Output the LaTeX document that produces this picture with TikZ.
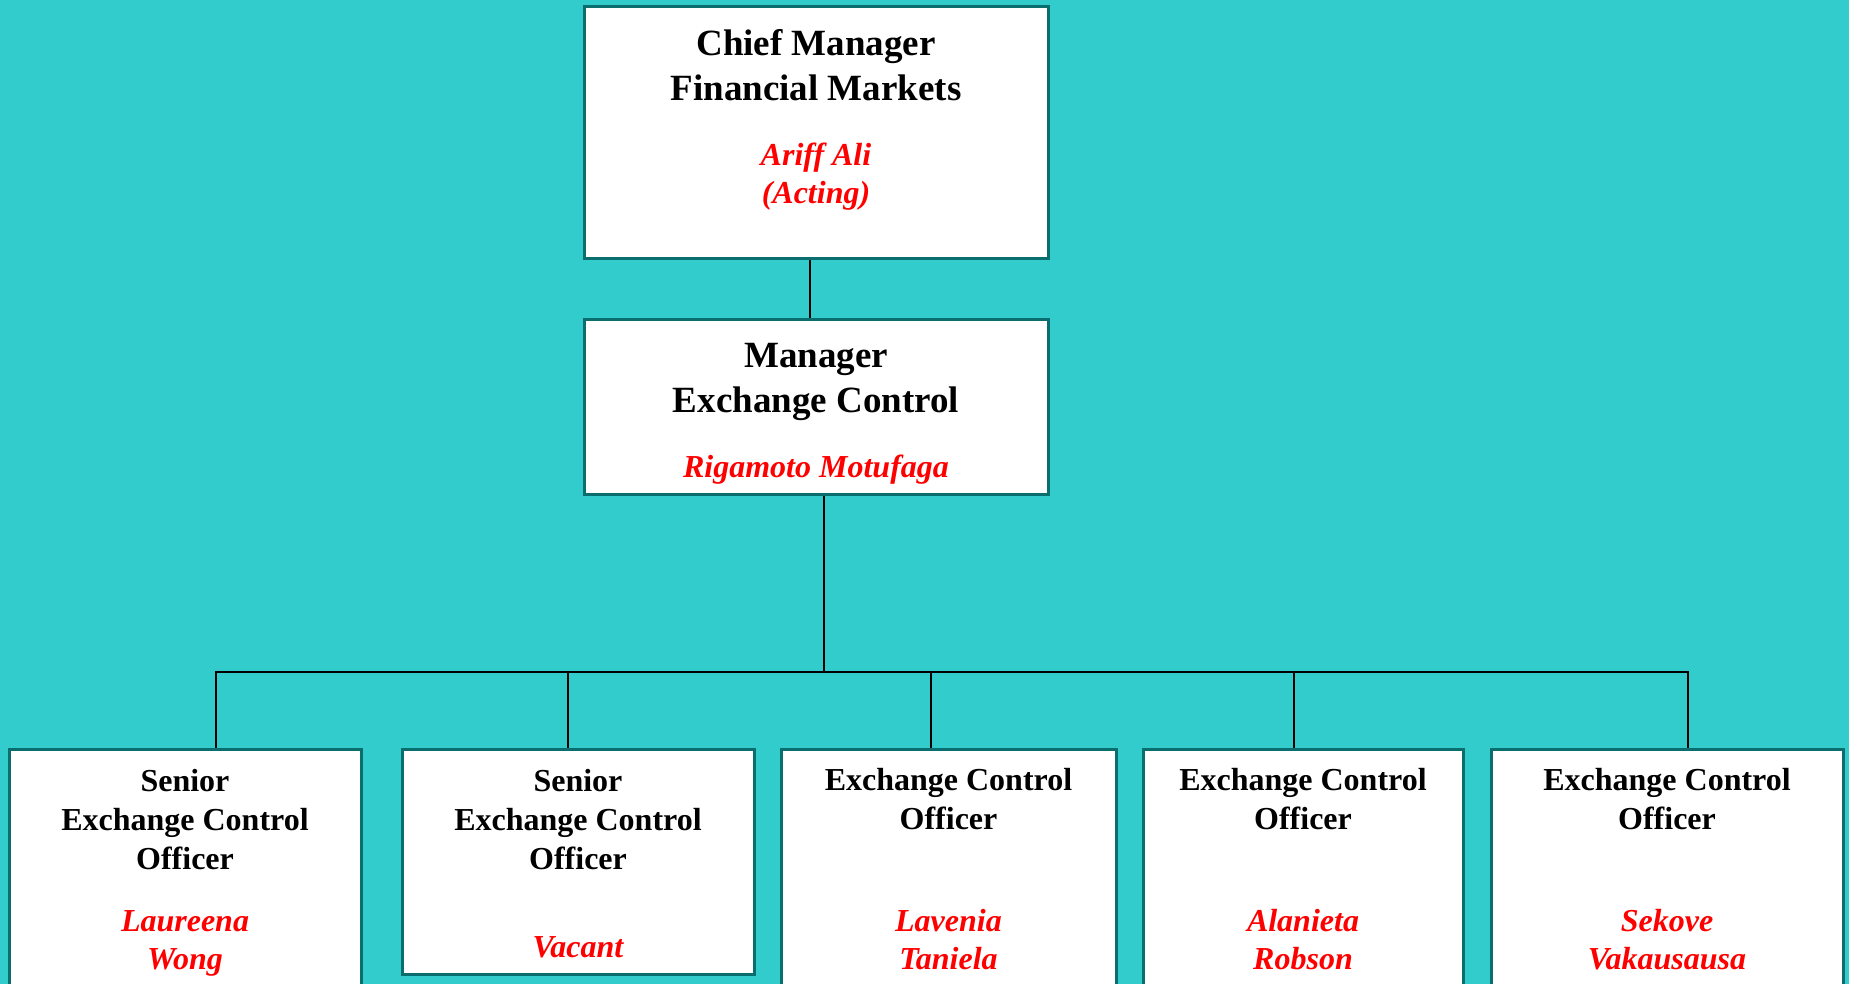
\documentclass[tikz,border=0pt]{standalone}
\usepackage{fontspec}
\setmainfont{Liberation Serif}
\definecolor{sea}{HTML}{33CCCC}
\definecolor{rim}{HTML}{0A6E6E}
\definecolor{namered}{HTML}{FF0000}
\tikzset{
  post/.style={draw=rim, line width=1.5pt, fill=white, inner sep=0pt},
  wire/.style={draw=black, line width=1.3pt},
  head/.style={font=\fontsize{18.5}{22.5}\selectfont\bfseries, align=center},
  rank/.style={font=\fontsize{16}{19.5}\selectfont\bfseries, align=center},
  who/.style={font=\fontsize{16}{19}\selectfont\bfseries\itshape, text=namered, align=center}
}
\begin{document}
\begin{tikzpicture}[x=0.5pt, y=-0.5pt]
\fill[sea] (0,0) rectangle (1849,984);
\useasboundingbox (0,0) rectangle (1849,984);
\clip (0,0) rectangle (1849,984);

% boxes
\node[post, minimum width=232pt, minimum height=126pt] (chief)   at (816,133) {};
\node[post, minimum width=232pt, minimum height=87pt]  (manager) at (816,407) {};
\node[post, minimum width=176pt,   minimum height=130.5pt] (sub1) at (185,879.5) {};
\node[post, minimum width=176pt,   minimum height=112.5pt] (sub2) at (578,861.5) {};
\node[post, minimum width=167.5pt, minimum height=130.5pt] (sub3) at (948.5,879.5) {};
\node[post, minimum width=160pt,   minimum height=130.5pt] (sub4) at (1303,879.5) {};
\node[post, minimum width=176pt,   minimum height=130.5pt] (sub5) at (1667,879.5) {};

% texts
\node[head] (chieftitle) at (816,65.5) {Chief Manager\\Financial Markets};
\node[who]  (chiefname)  at (816,176.5) {Ariff Ali\\(Acting)};
\node[head] (mgrtitle)   at (816,381.5) {Manager\\Exchange Control};
\node[who]  (mgrname)    at (816,470) {Rigamoto Motufaga};
\node[rank] (title1) at (185,819.5) {Senior\\Exchange Control\\Officer};
\node[rank] (title2) at (578,819.5) {Senior\\Exchange Control\\Officer};
\foreach \n/\x in {3/948.5, 4/1303, 5/1667}
  \node[rank] (title\n) at (\x,799.5) {Exchange Control\\Officer};
\node[who] (name1) at (185,943.5)  {Laureena\\Wong};
\node[who] (name2) at (578,947.5)  {Vacant};
\node[who] (name3) at (948.5,940) {Lavenia\\Taniela};
\node[who] (name4) at (1303,940) {Alanieta\\Robson};
\node[who] (name5) at (1667,940) {Sekove\\Vakausausa};

% connectors
\coordinate (bus) at (824,672);
\draw[wire] ([xshift=-3pt]chief.south) -- ([xshift=-3pt]manager.north);
\draw[wire] (manager.south -| bus) -- (bus);
\draw[wire] ([xshift=15.5pt]sub1.north) |- (bus) -| ([xshift=10.5pt]sub5.north);
\foreach \n/\dx in {sub2/-5pt, sub3/-8.75pt, sub4/-4.5pt}
  \draw[wire] ([xshift=\dx]\n.north) -- ([xshift=\dx]\n.north |- bus);
\end{tikzpicture}
\end{document}
